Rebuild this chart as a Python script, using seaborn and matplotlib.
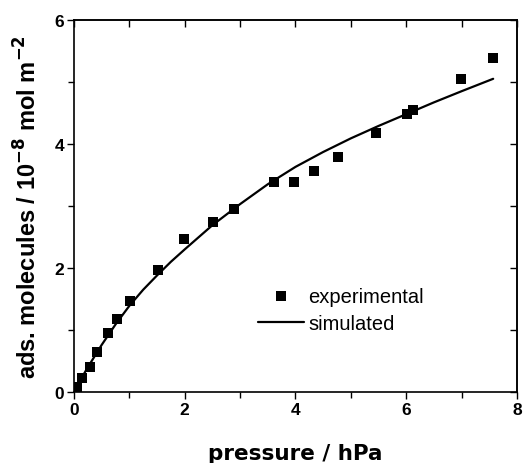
import matplotlib
matplotlib.use("Agg")
import matplotlib.pyplot as plt
import seaborn as sns
import pandas as pd
from matplotlib.ticker import MultipleLocator

# experimental data
exp_p = [0.05, 0.14, 0.28, 0.41, 0.62, 0.77, 1.01, 1.51, 1.99, 2.51, 2.89,
         3.61, 3.98, 4.33, 4.77, 5.46, 6.01, 6.12, 6.98, 7.57]
exp_n = [0.08, 0.23, 0.41, 0.64, 0.95, 1.17, 1.47, 1.97, 2.46, 2.74, 2.95,
         3.38, 3.39, 3.57, 3.79, 4.18, 4.48, 4.55, 5.04, 5.38]

# simulated curve
sim_p = [0.0, 0.1, 0.25, 0.5, 0.75, 1.0, 1.25, 1.5, 1.75, 2.0, 2.5, 3.0, 3.5,
         4.0, 4.5, 5.0, 5.5, 6.0, 6.5, 7.0, 7.57]
sim_n = [0.0, 0.17, 0.40, 0.76, 1.09, 1.39, 1.65, 1.88, 2.10, 2.30, 2.69,
         3.03, 3.35, 3.63, 3.87, 4.09, 4.29, 4.48, 4.67, 4.85, 5.05]

sns.set_theme(style="ticks")
plt.rcParams['font.family'] = ['Liberation Sans', 'DejaVu Sans']
plt.rcParams['text.color'] = 'black'
plt.rcParams['xtick.color'] = 'black'
plt.rcParams['ytick.color'] = 'black'
plt.rcParams['xtick.labelcolor'] = 'black'
plt.rcParams['ytick.labelcolor'] = 'black'
plt.rcParams['axes.labelcolor'] = 'black'

df_exp = pd.DataFrame({"p": exp_p, "n": exp_n})
df_sim = pd.DataFrame({"p": sim_p, "n": sim_n})

fig = plt.figure(figsize=(5.23, 4.64), dpi=100)
ax = fig.add_axes([0.1415, 0.153, 0.847, 0.802])

sns.scatterplot(data=df_exp, x="p", y="n", marker="s", s=45, color="black",
                edgecolor="black", linewidth=0, ax=ax, label="experimental", zorder=3)
sns.lineplot(data=df_sim, x="p", y="n", color="black", linewidth=1.6, ax=ax,
             label="simulated", sort=False)

ax.set_xlim(0, 8)
ax.set_ylim(0, 6)
ax.xaxis.set_major_locator(MultipleLocator(2))
ax.xaxis.set_minor_locator(MultipleLocator(1))
ax.yaxis.set_major_locator(MultipleLocator(2))
ax.yaxis.set_minor_locator(MultipleLocator(1))

for sp in ax.spines.values():
    sp.set_linewidth(1.2)
    sp.set_color("black")

ax.tick_params(axis="both", which="both", direction="out", color="black",
               width=1.0, labelsize=12.5, pad=2)
ax.tick_params(which="major", length=5)
ax.tick_params(which="minor", length=4)
for lab in ax.get_xticklabels() + ax.get_yticklabels():
    lab.set_fontweight("bold")

# mirrored inward ticks on top and right
axt = ax.secondary_xaxis("top")
axt.xaxis.set_major_locator(MultipleLocator(1))
axt.tick_params(direction="in", length=5, width=1.0, labeltop=False)
axr = ax.secondary_yaxis("right")
axr.yaxis.set_major_locator(MultipleLocator(1))
axr.tick_params(direction="in", length=5, width=1.0, labelright=False)

ax.set_xlabel("pressure / hPa", fontsize=15.5, fontweight="bold",
              family="DejaVu Sans", labelpad=19)
ax.set_ylabel(r"ads. molecules / 10$^{\mathbf{-8}}$ mol m$^{\mathbf{-2}}$",
              fontsize=17, fontweight="bold", labelpad=9)

leg = ax.legend(loc="upper left", bbox_to_anchor=(0.392, 0.31), frameon=False,
                fontsize=14.5, handlelength=2.3, handletextpad=0.2,
                borderpad=0.0, labelspacing=0.4)

fig.savefig("out.png", dpi=100)
